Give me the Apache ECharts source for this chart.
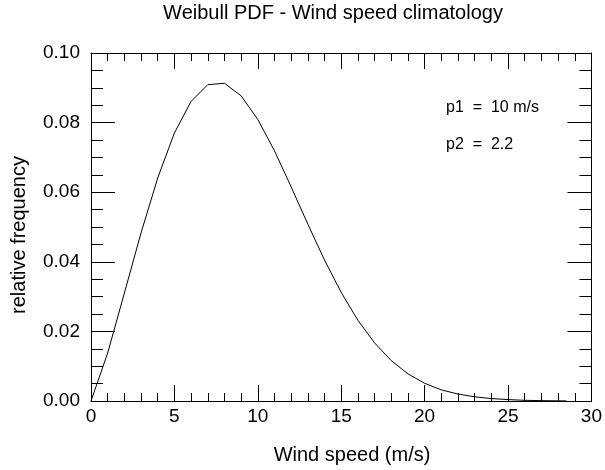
<!DOCTYPE html>
<html>
<head>
<meta charset="utf-8">
<script src="https://cdn.jsdelivr.net/npm/echarts@6/dist/echarts.min.js"></script>
<style>
  html, body { margin: 0; padding: 0; background: #fff; }
  #chart { width: 605px; height: 470px; }
</style>
</head>
<body>
<div id="chart"></div>
<script>
// 数据 (wind speed, relative frequency)
var speeds = [0, 1, 2, 3, 4, 5, 6, 7, 8, 9, 10, 11, 12, 13, 14, 15, 16, 17, 18, 19, 20, 21, 22, 23, 24, 25, 26, 27, 28, 28.5]
var freqs = [0, 0.0138, 0.0310, 0.0483, 0.0641, 0.0770, 0.0861, 0.0909, 0.0913, 0.0877, 0.0809, 0.0719, 0.0615, 0.0508, 0.0405, 0.0312, 0.0232, 0.0167, 0.0116, 0.0078, 0.0051, 0.0032, 0.0020, 0.0012, 0.0007, 0.0004, 0.0002, 0.0001, 0.00005, 0.00003]
var xTicks = [0, 5, 10, 15, 20, 25, 30]
var yTicks = [0.00, 0.02, 0.04, 0.06, 0.08, 0.10]

var font = 'Liberation Sans, Arial, Helvetica, sans-serif'
var ink = '#000'

function axisBase(show) {
    return {
        axisLine: { show: true, onZero: false, lineStyle: { color: ink, width: 1 } },
        splitLine: { show: false },
        axisLabel: { show: show, color: ink, fontSize: 19, fontFamily: font }
    }
}

var chart = echarts.init(document.getElementById('chart'))
var option = {
    animation: false,
    backgroundColor: '#fff',
    title: {
        text: 'Weibull PDF - Wind speed climatology',
        left: 333,
        textAlign: 'center',
        top: 3,
        padding: 0,
        textStyle: { color: ink, fontSize: 20, fontWeight: 'normal', fontFamily: font }
    },
    grid: { left: 91, right: 11, top: 53, bottom: 69, containLabel: false },
    xAxis: [
        Object.assign(axisBase(true), {
            type: 'value', min: 0, max: 30, interval: 5, position: 'bottom',
            axisTick: { show: true, inside: true, length: 16, lineStyle: { color: ink } },
            minorTick: { show: true, splitNumber: 5, length: 8, lineStyle: { color: ink } },
            axisLabel: { show: true, color: ink, fontSize: 19, fontFamily: font, margin: 6,
                formatter: function (v) { return xTicks.indexOf(v) >= 0 ? String(v) : '' } }
        }),
        Object.assign(axisBase(false), {
            type: 'value', min: 0, max: 30, interval: 5, position: 'top',
            axisTick: { show: true, inside: true, length: 16, lineStyle: { color: ink } },
            minorTick: { show: true, splitNumber: 5, length: 8, lineStyle: { color: ink } }
        })
    ],
    yAxis: [
        Object.assign(axisBase(true), {
            type: 'value', min: 0, max: 0.1, interval: 0.02, position: 'left',
            axisTick: { show: true, inside: true, length: 24, lineStyle: { color: ink } },
            minorTick: { show: true, splitNumber: 4, length: 12, lineStyle: { color: ink } },
            axisLabel: { show: true, color: ink, fontSize: 19, fontFamily: font, margin: 11,
                formatter: function (v) {
                    var s = v.toFixed(2)
                    return yTicks.map(function (t) { return t.toFixed(2) }).indexOf(s) >= 0 ? s : ''
                } }
        }),
        Object.assign(axisBase(false), {
            type: 'value', min: 0, max: 0.1, interval: 0.02, position: 'right',
            axisTick: { show: true, inside: true, length: 24, lineStyle: { color: ink } },
            minorTick: { show: true, splitNumber: 4, length: 12, lineStyle: { color: ink } }
        })
    ],
    graphic: [
        // 轴名称
        { type: 'text', x: 352, y: 455,
          style: { text: 'Wind speed (m/s)', fill: ink, font: '20px ' + font, align: 'center', verticalAlign: 'middle' } },
        { type: 'text', x: 19, y: 235, rotation: Math.PI / 2,
          style: { text: 'relative frequency', fill: ink, font: '20px ' + font, align: 'center', verticalAlign: 'middle' } },
        // 参数标注
        { type: 'text', x: 446, y: 108,
          style: { text: 'p1  =  10 m/s', fill: ink, font: '16px ' + font, verticalAlign: 'middle' } },
        { type: 'text', x: 446, y: 145,
          style: { text: 'p2  =  2.2', fill: ink, font: '16px ' + font, verticalAlign: 'middle' } }
    ],
    series: [
        {
            name: 'Weibull PDF',
            type: 'line',
            xAxisIndex: 0,
            yAxisIndex: 0,
            showSymbol: false,
            smooth: false,
            lineStyle: { color: ink, width: 1 },
            data: speeds.map(function (s, i) { return [s, freqs[i]] })
        }
    ]
}
chart.setOption(option)
</script>
</body>
</html>
